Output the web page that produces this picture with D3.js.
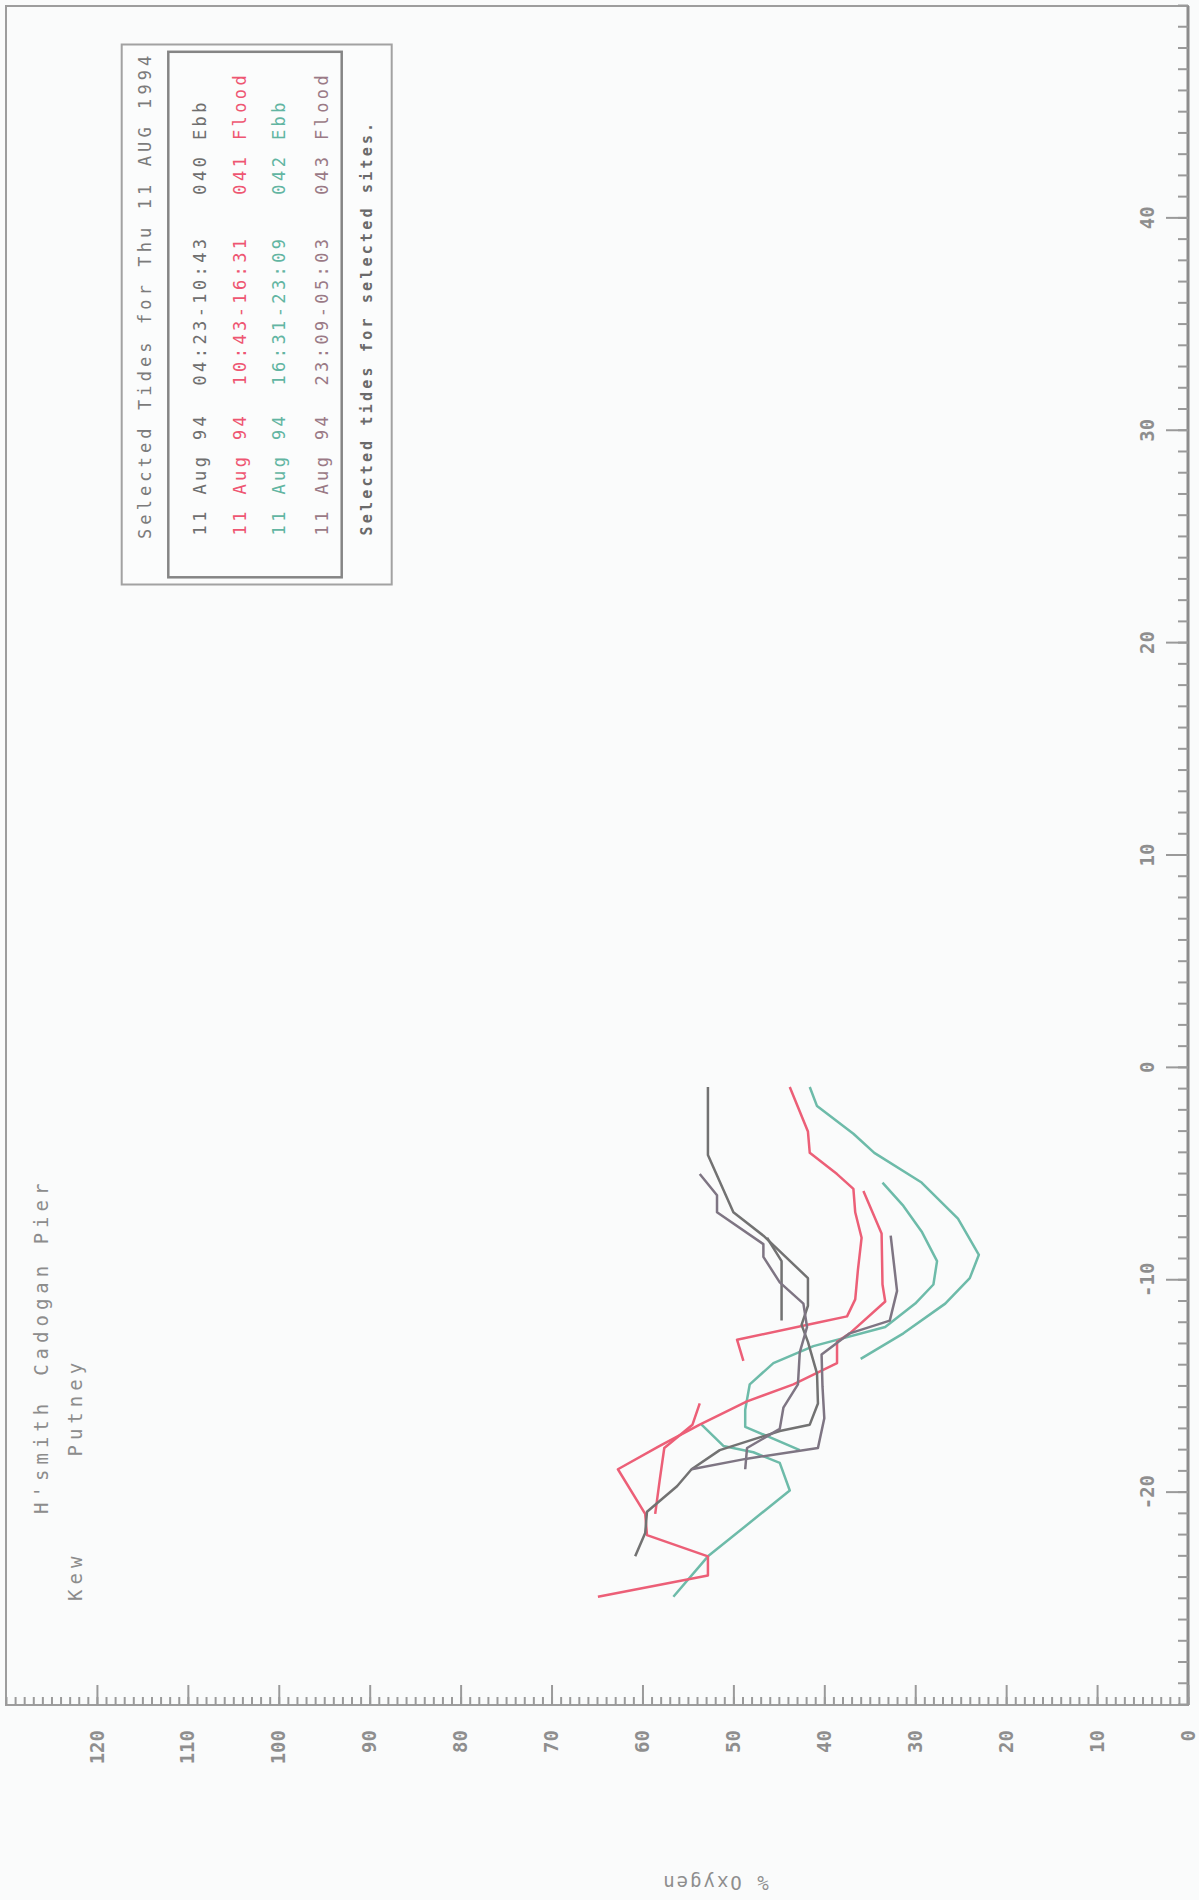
<!DOCTYPE html>
<html>
<head>
<meta charset="utf-8">
<script src="https://cdn.jsdelivr.net/npm/d3@7"></script>
<style>
  body { margin: 0; background: #fafbfb; }
  svg { display: block; }
  text { font-family: "DejaVu Sans Mono", monospace; white-space: pre; }
</style>
</head>
<body>
<svg id="chart" width="1199" height="1900"></svg>
<script>
// traces: x = distance, y = % oxygen
// 040 Ebb
const g1X = [-0.9, -4.1, -6.8, -7.9, -9.9, -11.2, -12.1, -12.9, -14.4, -15.8, -16.8, -17.1, -18.0, -18.9, -19.7, -20.9, -21.9, -23.0];
const g1Y = [52.8, 52.8, 50.0, 46.7, 41.8, 41.8, 42.5, 41.8, 40.8, 40.7, 41.6, 44.9, 51.5, 54.6, 56.2, 59.5, 59.7, 60.8];
const g3X = [-8.0, -9.1, -11.9];
const g3Y = [46.3, 44.7, 44.7];
// 041 Flood
const r1X = [-0.9, -3.0, -4.0, -5.0, -5.7, -6.8, -8.0, -9.5, -10.9, -11.7, -12.0, -12.8, -13.8];
const r1Y = [43.8, 41.8, 41.6, 38.6, 36.8, 36.6, 35.9, 36.3, 36.6, 37.5, 40.8, 49.6, 48.9];
const r2X = [-24.9, -23.9, -23.0, -22.0, -21.0, -18.9, -17.8, -16.8, -15.7, -14.9, -13.9, -12.9, -12.5, -11.0, -10.2, -7.8, -5.8];
const r2Y = [64.9, 52.8, 52.8, 59.5, 59.7, 62.7, 58.1, 53.7, 48.5, 43.4, 38.6, 38.6, 37.2, 33.3, 33.6, 33.7, 35.7];
const r3X = [-15.8, -16.8, -17.9, -19.4, -21.0];
const r3Y = [53.7, 54.5, 57.6, 58.1, 58.6];
// 042 Ebb
const t1X = [-0.9, -1.8, -3.1, -4.0, -5.4, -7.1, -8.8, -9.9, -11.1, -12.5, -13.7];
const t1Y = [41.6, 40.8, 36.8, 34.5, 29.3, 25.3, 23.0, 24.0, 26.7, 31.3, 36.0];
const t2X = [-5.4, -6.5, -7.7, -9.1, -10.2, -11.1, -12.2, -13.1, -13.9, -14.9, -16.1, -16.9, -18.0];
const t2Y = [33.6, 31.3, 29.3, 27.6, 28.0, 30.0, 33.3, 41.2, 45.6, 48.2, 48.7, 48.7, 42.7];
const t3X = [-24.9, -23.0, -19.9, -18.6, -18.1, -17.8, -16.8];
const t3Y = [56.6, 52.8, 43.8, 44.9, 47.8, 51.1, 53.5];
// 043 Flood
const g2X = [-5.0, -6.0, -6.8, -8.3, -8.9, -10.1, -11.1, -12.2, -13.4, -14.9, -16.0, -17.0, -17.9, -18.9];
const g2Y = [53.7, 51.8, 51.8, 46.7, 46.7, 44.9, 42.3, 41.9, 42.7, 42.9, 44.5, 44.9, 48.5, 48.7];
const g4X = [-7.9, -10.5, -11.9, -12.5, -13.5, -15.0, -16.5, -17.9, -18.4, -18.9];
const g4Y = [32.7, 32.0, 32.8, 37.2, 40.3, 40.2, 40.0, 40.7, 48.5, 54.6];

const legendDates = ["11 Aug 94", "11 Aug 94", "11 Aug 94", "11 Aug 94"];
const legendTimes = ["04:23-10:43", "10:43-16:31", "16:31-23:09", "23:09-05:03"];
const legendTides = ["040 Ebb", "041 Flood", "042 Ebb", "043 Flood"];

const siteNames = ["Kew", "H'smith", "Putney", "Cadogan Pier"];
const siteX = [-25.1, -21.0, -18.3, -14.5];
const siteRow = [1, 0, 1, 0];

const yTicks = d3.range(0, 121, 10);
const xTicks = d3.range(-20, 41, 10);

const tideColor = { "040": "#727272", "041": "#ec5f77", "042": "#6dbba9", "043": "#7e7583" };
const legendColor = ["#6f6f6f", "#ee5672", "#62b5a2", "#9a7a86"];

const traces = [
    { tide: "042", xs: t1X, ys: t1Y },
    { tide: "042", xs: t2X, ys: t2Y },
    { tide: "042", xs: t3X, ys: t3Y },
    { tide: "041", xs: r1X, ys: r1Y },
    { tide: "041", xs: r2X, ys: r2Y },
    { tide: "041", xs: r3X, ys: r3Y },
    { tide: "040", xs: g1X, ys: g1Y },
    { tide: "040", xs: g3X, ys: g3Y },
    { tide: "043", xs: g2X, ys: g2Y },
    { tide: "043", xs: g4X, ys: g4Y }
];

// the plot is drawn upright, then turned a quarter left to match the scan
const W = 1699, H = 1182;
const svg = d3.select("#chart");
const g = svg.append("g").attr("transform", "translate(6,1705) rotate(-90)");

const x = d3.scaleLinear().domain([-30, 50]).range([0, W]);
const y = d3.scaleLinear().domain([0, 130]).range([H, 0]);

g.append("rect")
    .attr("width", W).attr("height", H)
    .attr("fill", "none").attr("stroke", "#9d9d9d").attr("stroke-width", 2);
g.append("line")
    .attr("x1", 0).attr("x2", W).attr("y1", H).attr("y2", H)
    .attr("stroke", "#8c8c8c").attr("stroke-width", 3);

function styleAxis(sel) {
    sel.select(".domain").remove();
    sel.selectAll(".tick line").attr("stroke", "#9a9a9a").attr("stroke-width", 2);
    sel.selectAll("text")
        .attr("fill", "#8e8e8e")
        .attr("font-size", 19)
        .attr("font-weight", "bold")
        .attr("font-family", "DejaVu Sans Mono, monospace");
}

const fmt = d => d < 0 ? "-" + Math.abs(d) : String(d);

// % oxygen axis (scan bottom)
g.append("g")
    .call(d3.axisLeft(y).tickValues(d3.range(0, 131)).tickSize(-8).tickFormat(""))
    .call(styleAxis);
g.append("g")
    .call(d3.axisLeft(y).tickValues(yTicks).tickSize(-20).tickPadding(25).tickFormat(fmt))
    .call(styleAxis);

// distance axis (scan right)
g.append("g")
    .attr("transform", `translate(0,${H})`)
    .call(d3.axisTop(x).tickValues(d3.range(-30, 51)).tickSize(10).tickFormat(""))
    .call(styleAxis);
g.append("g")
    .attr("transform", `translate(0,${H})`)
    .call(d3.axisTop(x).tickValues(xTicks).tickSize(22).tickPadding(12).tickFormat(fmt))
    .call(styleAxis);

g.append("text")
    .attr("transform", "translate(-176,709) rotate(-90)")
    .attr("text-anchor", "middle")
    .attr("dominant-baseline", "middle")
    .attr("font-size", 19)
    .attr("letter-spacing", 2)
    .attr("fill", "#8e8e8e")
    .text("% Oxygen");

// traces
const line = d3.line().x(d => x(d[0])).y(d => y(d[1]));
g.append("g").selectAll("path")
    .data(traces)
    .join("path")
    .attr("d", d => line(d.xs.map((v, i) => [v, d.ys[i]])))
    .attr("fill", "none")
    .attr("stroke", d => tideColor[d.tide])
    .attr("stroke-width", 2.5)
    .attr("stroke-linejoin", "round");

// site names
g.append("g").selectAll("text")
    .data(siteNames)
    .join("text")
    .attr("x", (d, i) => x(siteX[i]))
    .attr("y", (d, i) => siteRow[i] ? 76 : 42)
    .attr("font-size", 19)
    .attr("letter-spacing", 5)
    .attr("fill", "#8c8c8c")
    .text(d => d);

// tide legend
const leg = g.append("g");
leg.append("rect")
    .attr("x", 1120.5).attr("y", 115.7).attr("width", 540).attr("height", 270)
    .attr("fill", "#fbfcfc").attr("stroke", "#a2a2a2").attr("stroke-width", 2);
leg.append("rect")
    .attr("x", 1127.7).attr("y", 162.3).attr("width", 525.5).attr("height", 173.4)
    .attr("fill", "none").attr("stroke", "#858585").attr("stroke-width", 2.5);
leg.append("text")
    .attr("x", 1166).attr("y", 145)
    .attr("font-size", 17).attr("letter-spacing", 4.1)
    .attr("fill", "#7b7b7b")
    .text("Selected Tides for Thu 11 AUG 1994");
const rowY = [200, 240, 279, 322];
leg.selectAll(".row")
    .data(legendTides)
    .join("text")
    .attr("class", "row")
    .attr("x", 1169.5)
    .attr("y", (d, i) => rowY[i])
    .attr("font-size", 17).attr("letter-spacing", 3.4)
    .attr("fill", (d, i) => legendColor[i])
    .text((d, i) => `${legendDates[i]}  ${legendTimes[i]}   ${d}`);
leg.append("text")
    .attr("x", 1169.5).attr("y", 366)
    .attr("font-size", 15).attr("font-weight", "bold").attr("letter-spacing", 3.2)
    .attr("fill", "#6a6a6a")
    .text("Selected tides for selected sites.");
</script>
</body>
</html>
